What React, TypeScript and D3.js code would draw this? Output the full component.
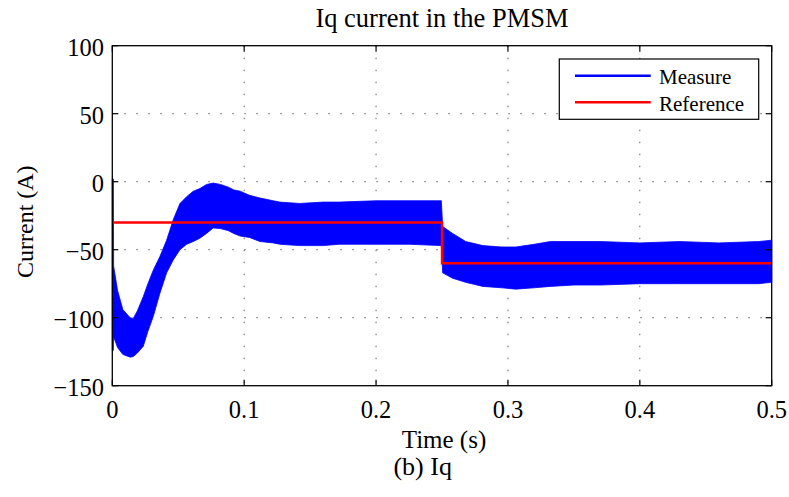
import React from "react";
import * as d3 from "d3";

const W = 789;
const H = 497;

const measTime = [0, 0.0008, 0.001, 0.004, 0.008, 0.0135, 0.0159, 0.019, 0.0235, 0.027, 0.0311, 0.0361, 0.0412, 0.0462, 0.0513, 0.0564, 0.0614, 0.0664, 0.0715, 0.0765, 0.082, 0.088, 0.092, 0.097, 0.104, 0.112, 0.122, 0.127, 0.142, 0.16, 0.172, 0.2, 0.225, 0.2495, 0.2505, 0.258, 0.268, 0.281, 0.295, 0.306, 0.32, 0.332, 0.35, 0.37, 0.4, 0.43, 0.46, 0.49, 0.5];
const measUpper = [2, 2, -62, -80, -94, -100, -100.5, -95, -84.5, -75, -65, -55, -43, -28, -16, -11, -7, -5, -2, -1, -2, -4, -6, -7, -10, -12, -14, -15, -16, -15, -15, -14, -14, -14, -33, -38, -44, -47, -48, -48, -46, -44, -44, -44, -45, -44, -45, -44, -43];
const measLower = [-124, -124, -114, -122, -127, -129, -128.6, -126, -121, -110, -99, -82, -67, -57.6, -50, -46, -44, -41.6, -38, -34, -34.5, -36, -38, -40, -41, -44, -45, -46, -47, -47, -46, -46, -46, -47, -67, -71, -74, -77, -78, -79, -78, -77, -76, -76, -75, -75, -75, -75, -74];

// Reference (step)
const refTime = [0, 0.25, 0.5];
const refValue = [-30, -60, -60];

const xTicks = [0, 0.1, 0.2, 0.3, 0.4, 0.5];
const yTicks = [-150, -100, -50, 0, 50, 100];

const seriesNames = ["Measure", "Reference"];
const seriesColors = ["#0000ff", "#ff0000"];

export default function App() {
  const left = 112.3, right = 771.7, top = 45.7, bottom = 385.7;
  const x = d3.scaleLinear().domain([0, 0.5]).range([left, right]);
  const y = d3.scaleLinear().domain([-150, 100]).range([bottom, top]);

  const band = measTime.map((t, i) => ({ t, u: measUpper[i], l: measLower[i] }));
  const area = d3
    .area<{ t: number; u: number; l: number }>()
    .x((d) => x(d.t))
    .y0((d) => y(d.l))
    .y1((d) => y(d.u));

  const refPts = refTime.map((t, i) => [t, refValue[i]] as [number, number]);
  const refLine = d3
    .line<[number, number]>()
    .x((d) => x(d[0]))
    .y((d) => y(d[1]))
    .curve(d3.curveStepAfter);

  const font = "'Liberation Serif', 'Times New Roman', serif";
  const tickLen = 6;
  const gridStyle = { stroke: "#666", strokeWidth: 1, strokeDasharray: "1.5,10.5" };

  return (
    <svg width={W} height={H} style={{ position: "absolute", left: 0, top: 0, background: "#fff" }} fontFamily={font}>
      <rect x={0} y={0} width={W} height={H} fill="#fff" />
      {/* grid */}
      {xTicks.slice(1, -1).map((t) => (
        <line key={"gx" + t} x1={x(t)} x2={x(t)} y1={top} y2={bottom} {...gridStyle} />
      ))}
      {yTicks.slice(1, -1).map((t) => (
        <line key={"gy" + t} x1={left} x2={right} y1={y(t)} y2={y(t)} {...gridStyle} />
      ))}
      {/* data */}
      <path d={area(band) || ""} fill={seriesColors[0]} stroke={seriesColors[0]} strokeWidth={0.8} />
      <path d={refLine(refPts) || ""} fill="none" stroke={seriesColors[1]} strokeWidth={2.4} />
      {/* box & ticks */}
      <rect x={left} y={top} width={right - left} height={bottom - top} fill="none" stroke="#000" strokeWidth={1.3} />
      {xTicks.map((t) => (
        <g key={"tx" + t}>
          <line x1={x(t)} x2={x(t)} y1={bottom} y2={bottom - tickLen} stroke="#000" strokeWidth={1.2} />
          <line x1={x(t)} x2={x(t)} y1={top} y2={top + tickLen} stroke="#000" strokeWidth={1.2} />
          <text x={x(t)} y={418.3} textAnchor="middle" fontSize={24.5}>
            {String(t)}
          </text>
        </g>
      ))}
      {yTicks.map((t) => (
        <g key={"ty" + t}>
          <line x1={left} x2={left + tickLen} y1={y(t)} y2={y(t)} stroke="#000" strokeWidth={1.2} />
          <line x1={right} x2={right - tickLen} y1={y(t)} y2={y(t)} stroke="#000" strokeWidth={1.2} />
          <text x={104} y={y(t) + 10} textAnchor="end" fontSize={24.5}>
            {t < 0 ? "\u2212" + Math.abs(t) : String(t)}
          </text>
        </g>
      ))}
      {/* titles */}
      <text x={(left + right) / 2} y={26.7} textAnchor="middle" fontSize={26.5}>
        Iq current in the PMSM
      </text>
      <text x={444} y={448.3} textAnchor="middle" fontSize={25}>
        Time (s)
      </text>
      <text transform={`translate(33.3,221.7) rotate(-90)`} textAnchor="middle" fontSize={24}>
        Current (A)
      </text>
      <text x={422.7} y={475} textAnchor="middle" fontSize={26}>
        (b) Iq
      </text>
      {/* legend */}
      <rect x={559.3} y={59} width={199.4} height={60.3} fill="#fff" stroke="#000" strokeWidth={1.2} />
      {seriesNames.map((n, i) => {
        const ly = i === 0 ? 75.7 : 102.3;
        return (
          <g key={n}>
            <line x1={575} x2={650.7} y1={ly} y2={ly} stroke={seriesColors[i]} strokeWidth={2.4} />
            <text x={659} y={ly + 8.3} fontSize={21}>
              {n}
            </text>
          </g>
        );
      })}
    </svg>
  );
}
